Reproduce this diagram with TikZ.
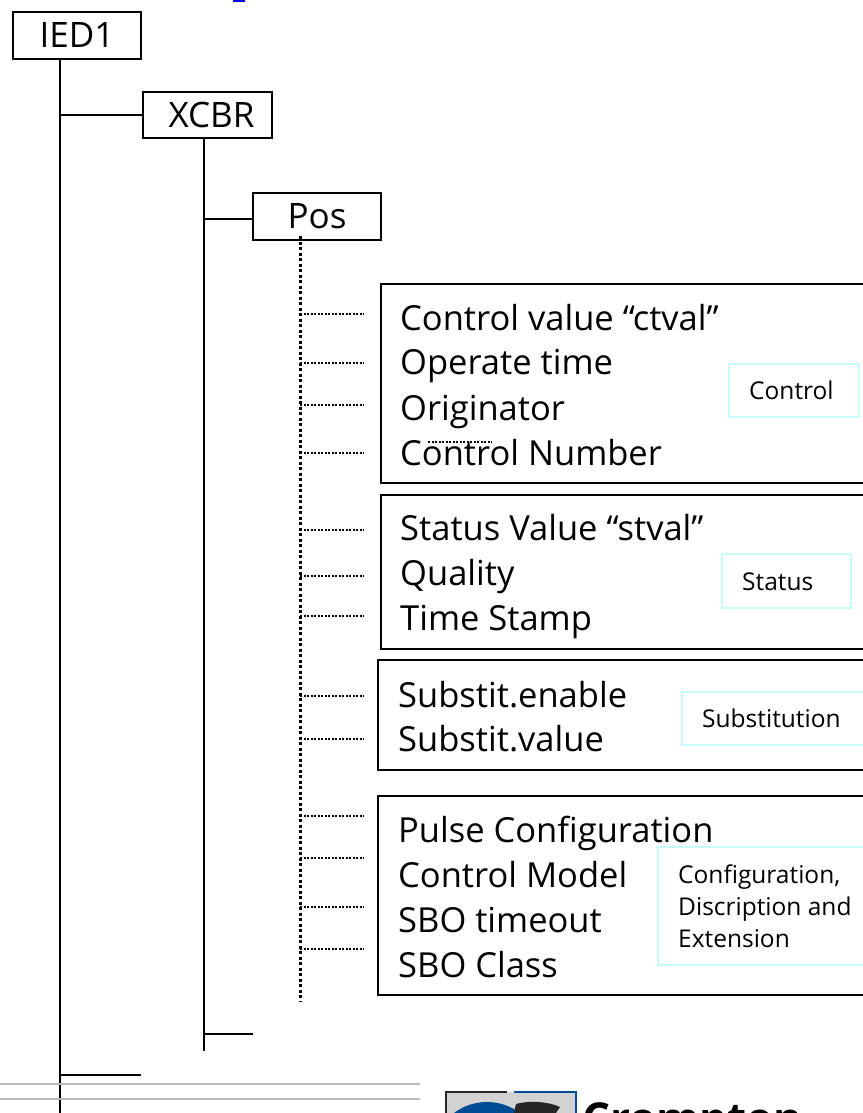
\documentclass[tikz,border=0pt]{standalone}
\usepackage{fontspec}
\setmainfont{Open Sans}
\usetikzlibrary{positioning}
\definecolor{paleline}{RGB}{200,250,250}
\definecolor{logoblue}{RGB}{0,75,150}
\tikzset{
    treebox/.style={draw, line width=2pt, anchor=north west, inner sep=0pt, font=\fontsize{35}{35}\selectfont},
    groupbox/.style={draw, line width=2pt, anchor=north west, inner sep=0pt},
    namebox/.style={draw=paleline, line width=1.6pt, anchor=north west, inner sep=0pt},
    itemtext/.style={anchor=base west, inner sep=0pt, font=\fontsize{34.5}{35}\selectfont},
    nametext/.style={anchor=base west, inner sep=0pt, align=left, font=\fontsize{24.5}{32}\selectfont},
    tree/.style={line width=2pt},
    leaf/.style={line width=2.5pt, dash pattern=on 2pt off 1.5pt},
    trunk/.style={line width=3pt, dash pattern=on 3pt off 2.5pt},
}
\begin{document}
\begin{tikzpicture}[x=1pt, y=-1pt]
    \useasboundingbox (0,0) rectangle (862,1113);
    % boxes of the tree
    \node[treebox, minimum width=128pt, minimum height=47pt] (ied) at (12,11) {IED1};
    \node[treebox, minimum width=129pt, minimum height=46pt] (xcbr) at (142,91) {\hspace{8pt}XCBR};
    \node[treebox, minimum width=128pt, minimum height=47pt] (pos) at (252,192) {Pos};
    \fill[blue] (233,0) rectangle (245,2);
    % groups
    \node[groupbox, minimum width=500pt, minimum height=199pt] (control) at (380,283) {};
    \node[groupbox, minimum width=500pt, minimum height=154pt] (status) at (380,494) {};
    \node[groupbox, minimum width=500pt, minimum height=110pt] (subst) at (377,659) {};
    \node[groupbox, minimum width=500pt, minimum height=199pt] (config) at (377,795) {};
    % texts
    \node[itemtext] (t1) at (400,330) {Control value\hspace{9pt}“ctval”};
    \node[itemtext] (t2) at (400,374) {Operate time};
    \node[itemtext] (t3) at (400,420) {Originator};
    \node[itemtext] (t4) at (400,465) {Control Number};
    \node[itemtext] (t5) at (400,540) {Status Value\hspace{9pt}“stval”};
    \node[itemtext] (t6) at (400,585) {Quality};
    \node[itemtext] (t7) at (400,630) {Time Stamp};
    \node[itemtext] (t8) at (398,707) {Substit.enable};
    \node[itemtext] (t9) at (398,751) {Substit.value};
    \node[itemtext] (t10) at (398,842) {Pulse Configuration};
    \node[itemtext] (t11) at (398,887) {Control Model};
    \node[itemtext] (t12) at (398,932) {SBO timeout};
    \node[itemtext] (t13) at (398,977) {SBO Class};
    % names of the groups
    \node[namebox, minimum width=130pt, minimum height=53pt] (nc) at (728,363) {};
    \node[namebox, minimum width=129pt, minimum height=54pt] (ns) at (721,553) {};
    \node[namebox, minimum width=190pt, minimum height=53pt] (nu) at (681,691) {};
    \node[namebox, minimum width=220pt, minimum height=118pt] (nf) at (657,846) {};
    \node[nametext] (lc) at (749,399) {Control};
    \node[nametext] (ls) at (742,590) {Status};
    \node[nametext] (lu) at (702,727) {Substitution};
    \node[nametext] (lf) at (678,947) {Configuration,\\Discription and\\Extension};
    % connectors
    \coordinate (iedend) at (60,1113);
    \coordinate (xcbrend) at (204,1051);
    \coordinate (posstart) at (300,236);
    \coordinate (posend) at (300,1002);
    \coordinate (iedbar) at (60,1075);
    \coordinate (xcbrbar) at (204,1034);
    \coordinate (posjoin) at (252,219);
    \draw[tree] (ied.south -| iedend) -- (iedend);
    \draw[tree] (xcbr.south -| xcbrend) -- (xcbrend);
    \draw[tree] (iedbar |- xcbr.west) -- (xcbr.west);
    \draw[tree] (xcbrbar |- posjoin) -- (posjoin);
    \draw[tree] (iedbar) -- +(81,0);
    \draw[tree] (xcbrbar) -- +(49,0);
    \draw[trunk] (posstart) -- (posend);
    \foreach \y in {314,363,405,453,530,576,616,696,739,816,858,907,949} {
        \draw[leaf] (300,\y) -- (364,\y);
    }
    \draw[leaf] (428,442) -- (492,442);
    % bottom strip
    \draw[gray!55, line width=1.4pt] (0,1084) -- (420,1084);
    \draw[gray!55, line width=2pt] (0,1099) -- (420,1099);
    \begin{scope}
        \clip (440,1085) rectangle (862,1113);
        \fill[gray!35] (446,1092) rectangle (576,1113);
        \draw[black!85, line width=2.4pt] (446,1113) |- (507,1092);
        \draw[logoblue, line width=2.4pt] (514,1092) -| (576,1113);
        \fill[logoblue] (487,1157) circle (55pt);
        \fill[black!85] (514,1113) -- (516,1104) .. controls (530,1100) and (550,1102) .. (560,1107) -- (556,1113) -- cycle;
        \node[anchor=north west, inner sep=0pt, font=\fontsize{44}{44}\bfseries\selectfont] (logo) at (582,1102) {Crompton};
    \end{scope}
\end{tikzpicture}
\end{document}
